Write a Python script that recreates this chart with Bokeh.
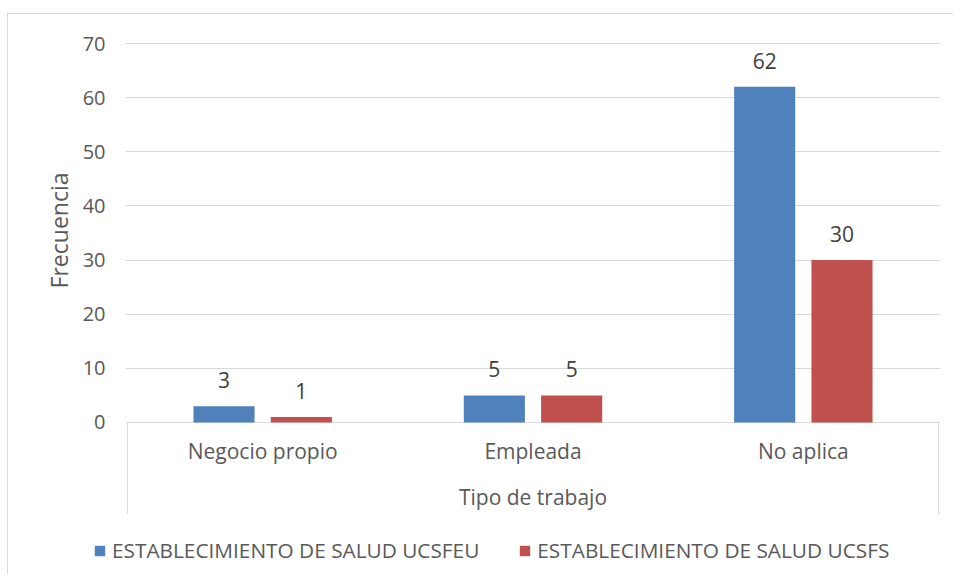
from bokeh.plotting import figure
from bokeh.models import (FactorRange, Range1d, FixedTicker, Legend, Title,
                          LegendItem, ColumnDataSource)
from bokeh.transform import dodge
from bokeh.core.properties import value
from bokeh.embed import file_html
from bokeh.resources import INLINE

# ---- data ----
categories = ["Negocio propio", "Empleada", "No aplica"]
ucsfeu = [3, 5, 62]
ucsfs = [1, 5, 30]
series_names = ["ESTABLECIMIENTO DE SALUD UCSFEU", "ESTABLECIMIENTO DE SALUD UCSFS"]
y_ticks = [0, 10, 20, 30, 40, 50, 60, 70]
x_title = "Tipo de trabajo"
y_title = "Frecuencia"

FONT = "Open Sans"
TXT = "#595959"
LBL = "#404040"
GRID = "#d9d9d9"
BLUE = "#4F81BD"
RED = "#C0504D"

Y0 = -17.18  # bottom of the category box (below zero line)

src = ColumnDataSource(dict(
    cat=categories, a=ucsfeu, b=ucsfs,
    la=[str(v) for v in ucsfeu], lb=[str(v) for v in ucsfs],
    zero=[0] * len(categories),
))

xr = FactorRange(factors=categories, range_padding=0.0074, range_padding_units="absolute")
p = figure(x_range=xr, y_range=Range1d(Y0, 70.185), width=946, height=501,
           output_backend="svg", toolbar_location=None, x_axis_location=None,
           min_border_left=117, min_border_right=14, min_border_top=28,
           min_border_bottom=0, outline_line_color=None,
           margin=(13, 0, 0, 7),
           styles={"border-left": "1px solid #d9d9d9",
                   "border-top": "1px solid #d9d9d9"})

off = 0.143
bw = 0.226
r1 = p.vbar(x=dodge("cat", -off, range=p.x_range), top="a", width=bw, source=src,
            fill_color=BLUE, line_color=None)
r2 = p.vbar(x=dodge("cat", off, range=p.x_range), top="b", width=bw, source=src,
            fill_color=RED, line_color=None)

for col, lab, d in (("a", "la", -off), ("b", "lb", off)):
    p.text(x=dodge("cat", d, range=p.x_range), y=col, text=lab, source=src,
           y_offset=-26, text_align="center", text_baseline="alphabetic",
           text_font=value(FONT), text_font_size="21px", text_color=LBL)

# category labels inside the axis box
p.text(x="cat", y="zero", text="cat", source=src, y_offset=29,
       text_align="center", text_baseline="alphabetic",
       text_font=value(FONT), text_font_size="21px", text_color=TXT)
# axis title
p.text(x=[categories[1]], y=[0], text=[x_title], y_offset=75,
       text_align="center", text_baseline="alphabetic",
       text_font=value(FONT), text_font_size="21px", text_color=TXT)

# axis box verticals
n = len(categories)
p.segment(x0=[0, n], y0=[0, 0], x1=[0, n], y1=[Y0, Y0],
          line_color=GRID, line_width=1)

p.add_layout(Title(text=y_title, align="right", offset=130,
                   text_font=FONT, text_font_size="23px", text_font_style="normal",
                   text_color=TXT), "left")

ax = p.yaxis[0]
ax.ticker = FixedTicker(ticks=y_ticks)
ax.axis_line_color = None
ax.major_tick_line_color = None
ax.minor_tick_line_color = None
ax.major_tick_out = 0
ax.major_label_standoff = 20
ax.major_label_text_font = FONT
ax.major_label_text_font_size = "20px"
ax.major_label_text_color = TXT
p.ygrid.grid_line_color = GRID
p.ygrid.grid_line_width = 1
p.xgrid.visible = False

# legend strip (separate root so its frame is not aligned to the chart frame)
pl = figure(width=946, height=60, output_backend="svg", toolbar_location=None,
            x_axis_location=None, y_axis_location=None,
            x_range=Range1d(0, 1), y_range=Range1d(0, 1),
            min_border_left=0, min_border_right=0, min_border_top=0,
            min_border_bottom=0, outline_line_color=None,
            margin=(0, 0, 0, 7),
            styles={"border-left": "1px solid #d9d9d9"})
pl.xgrid.visible = False
pl.ygrid.visible = False
g1 = pl.vbar(x="a", top="a", width=0.1, source=src, fill_color=BLUE,
             line_color=None, visible=False)
g2 = pl.vbar(x="b", top="b", width=0.1, source=src, fill_color=RED,
             line_color=None, visible=False)
legend = Legend(items=[LegendItem(label=series_names[0], renderers=[g1]),
                       LegendItem(label=series_names[1], renderers=[g2])],
                orientation="horizontal", location=(85, 10),
                glyph_width=13, glyph_height=13, label_standoff=6, spacing=39,
                label_text_font=FONT, label_text_font_size="20.8px",
                label_text_color=TXT, border_line_color=None, padding=0,
                margin=0, background_fill_alpha=0)
pl.add_layout(legend, "center")

open("out.html", "w").write(file_html([p, pl], INLINE))
